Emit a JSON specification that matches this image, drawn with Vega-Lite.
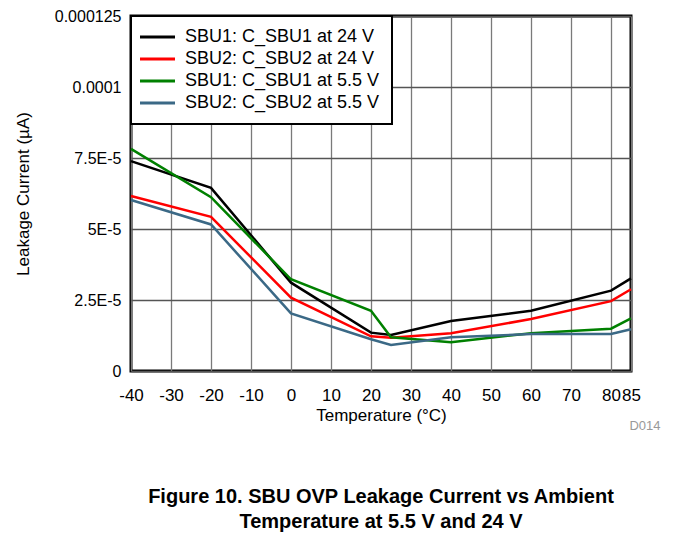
{
  "$schema": "https://vega.github.io/schema/vega-lite/v6.json",
  "width": 500,
  "height": 355,
  "autosize": {"type": "none"},
  "padding": {"left": 131, "top": 16, "right": 42, "bottom": 167},
  "background": "white",
  "config": {
    "font": "Liberation Sans",
    "view": {"stroke": "black", "strokeWidth": 3},
    "axis": {"labelFont": "Liberation Sans", "titleFont": "Liberation Sans", "labelColor": "black", "titleColor": "black", "titleFontWeight": "normal"},
    "legend": {"strokeColor": "black", "strokeWidth": 2, "fillColor": "white", "padding": 12}
  },
  "title": {
    "text": ["Figure 10. SBU OVP Leakage Current vs Ambient", "Temperature at 5.5 V and 24 V"],
    "orient": "bottom",
    "anchor": "middle",
    "font": "Liberation Sans",
    "fontSize": 20,
    "fontWeight": "bold",
    "color": "black",
    "lineHeight": 25,
    "offset": 55
  },
  "data": {
    "values": [
      {"t": -40, "v": 7.39e-5, "s": "SBU1: C_SBU1 at 24 V"},
      {"t": -20, "v": 6.45e-5, "s": "SBU1: C_SBU1 at 24 V"},
      {"t": 0, "v": 3.11e-5, "s": "SBU1: C_SBU1 at 24 V"},
      {"t": 20, "v": 1.35e-5, "s": "SBU1: C_SBU1 at 24 V"},
      {"t": 25, "v": 1.27e-5, "s": "SBU1: C_SBU1 at 24 V"},
      {"t": 40, "v": 1.76e-5, "s": "SBU1: C_SBU1 at 24 V"},
      {"t": 60, "v": 2.12e-5, "s": "SBU1: C_SBU1 at 24 V"},
      {"t": 80, "v": 2.83e-5, "s": "SBU1: C_SBU1 at 24 V"},
      {"t": 85, "v": 3.26e-5, "s": "SBU1: C_SBU1 at 24 V"},
      {"t": -40, "v": 6.16e-5, "s": "SBU2: C_SBU2 at 24 V"},
      {"t": -20, "v": 5.43e-5, "s": "SBU2: C_SBU2 at 24 V"},
      {"t": 0, "v": 2.58e-5, "s": "SBU2: C_SBU2 at 24 V"},
      {"t": 20, "v": 1.22e-5, "s": "SBU2: C_SBU2 at 24 V"},
      {"t": 25, "v": 1.17e-5, "s": "SBU2: C_SBU2 at 24 V"},
      {"t": 40, "v": 1.33e-5, "s": "SBU2: C_SBU2 at 24 V"},
      {"t": 60, "v": 1.83e-5, "s": "SBU2: C_SBU2 at 24 V"},
      {"t": 80, "v": 2.46e-5, "s": "SBU2: C_SBU2 at 24 V"},
      {"t": 85, "v": 2.88e-5, "s": "SBU2: C_SBU2 at 24 V"},
      {"t": -40, "v": 7.82e-5, "s": "SBU1: C_SBU1 at 5.5 V"},
      {"t": -20, "v": 6.12e-5, "s": "SBU1: C_SBU1 at 5.5 V"},
      {"t": 0, "v": 3.23e-5, "s": "SBU1: C_SBU1 at 5.5 V"},
      {"t": 20, "v": 2.12e-5, "s": "SBU1: C_SBU1 at 5.5 V"},
      {"t": 25, "v": 1.19e-5, "s": "SBU1: C_SBU1 at 5.5 V"},
      {"t": 40, "v": 1.01e-5, "s": "SBU1: C_SBU1 at 5.5 V"},
      {"t": 60, "v": 1.33e-5, "s": "SBU1: C_SBU1 at 5.5 V"},
      {"t": 80, "v": 1.49e-5, "s": "SBU1: C_SBU1 at 5.5 V"},
      {"t": 85, "v": 1.85e-5, "s": "SBU1: C_SBU1 at 5.5 V"},
      {"t": -40, "v": 6.02e-5, "s": "SBU2: C_SBU2 at 5.5 V"},
      {"t": -20, "v": 5.16e-5, "s": "SBU2: C_SBU2 at 5.5 V"},
      {"t": 0, "v": 2.03e-5, "s": "SBU2: C_SBU2 at 5.5 V"},
      {"t": 20, "v": 1.12e-5, "s": "SBU2: C_SBU2 at 5.5 V"},
      {"t": 25, "v": 0.92e-5, "s": "SBU2: C_SBU2 at 5.5 V"},
      {"t": 40, "v": 1.19e-5, "s": "SBU2: C_SBU2 at 5.5 V"},
      {"t": 60, "v": 1.30e-5, "s": "SBU2: C_SBU2 at 5.5 V"},
      {"t": 80, "v": 1.30e-5, "s": "SBU2: C_SBU2 at 5.5 V"},
      {"t": 85, "v": 1.47e-5, "s": "SBU2: C_SBU2 at 5.5 V"}
    ]
  },
  "resolve": {"axis": {"x": "independent"}},
  "layer": [
    {
      "mark": {"type": "line", "strokeWidth": 2.5},
      "encoding": {
        "x": {
          "field": "t", "type": "quantitative",
          "scale": {"domain": [-40, 85], "nice": false, "zero": false},
          "axis": {
            "orient": "bottom",
            "values": [-40, -30, -20, -10, 0, 10, 20, 30, 40, 50, 60, 70, 80, 85],
            "labelExpr": "'' + datum.value",
            "title": "Temperature (°C)",
            "labelFontSize": 17, "titleFontSize": 17,
            "labelPadding": 16, "titlePadding": 4,
            "labelOverlap": false, "labelFlush": false,
            "ticks": false, "domain": false,
            "grid": true, "gridColor": "#7a7a7a", "gridWidth": 1.3, "gridOpacity": 1
          }
        },
        "y": {
          "field": "v", "type": "quantitative",
          "scale": {"domain": [0, 0.000125], "nice": false},
          "axis": {
            "values": [0, 0.000025, 0.00005, 0.000075, 0.0001, 0.000125],
            "labelExpr": "datum.value == 0 ? '0' : (datum.value >= 0.0001 ? format(datum.value, '') : replace(format(datum.value, '.2~e'), 'e', 'E'))",
            "title": "Leakage Current (µA)",
            "labelFontSize": 16, "titleFontSize": 17,
            "labelPadding": 10, "titlePadding": 22,
            "ticks": false, "domain": false,
            "grid": true, "gridColor": "#555555", "gridWidth": 1.3, "gridOpacity": 1
          }
        },
        "color": {
          "field": "s", "type": "nominal",
          "scale": {
            "domain": ["SBU1: C_SBU1 at 24 V", "SBU2: C_SBU2 at 24 V", "SBU1: C_SBU1 at 5.5 V", "SBU2: C_SBU2 at 5.5 V"],
            "range": ["#000000", "#ff0000", "#008000", "#3b6986"]
          },
          "legend": {
            "title": null,
            "orient": "top-left",
            "offset": 0,
            "labelFontSize": 18,
            "labelFont": "Liberation Sans",
            "labelColor": "black",
            "labelLimit": 400,
            "symbolType": "M-3.5,0L3.5,0",
            "symbolSize": 100,
            "symbolStrokeWidth": 3,
            "symbolOffset": 5.5,
            "labelOffset": 18.5,
            "rowPadding": 4
          }
        }
      }
    },
    {
      "mark": {"type": "point", "opacity": 0},
      "encoding": {
        "x": {
          "field": "t", "type": "quantitative",
          "scale": {"domain": [-40, 85], "nice": false, "zero": false},
          "axis": {
            "orient": "bottom",
            "title": "D014", "titleColor": "#999999", "titleFontSize": 13,
            "titleAnchor": "end", "titleAlign": "right", "titleBaseline": "middle",
            "titleX": 529, "titleY": 54,
            "labels": false, "ticks": false, "domain": false, "grid": false
          }
        },
        "y": {"field": "v", "type": "quantitative"}
      }
    }
  ]
}
